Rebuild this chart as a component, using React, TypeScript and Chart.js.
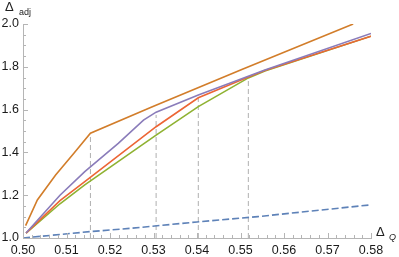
import React, { useEffect, useRef } from 'react';
import { Chart, registerables } from 'chart.js';

Chart.register(...registerables);

// Axis ticks
const xTickValues = [0.5, 0.51, 0.52, 0.53, 0.54, 0.55, 0.56, 0.57, 0.58];
const yTickValues = [1.0, 1.2, 1.4, 1.6, 1.8, 2.0];

// Series
const blueX = [0.5, 0.5155, 0.5246, 0.54, 0.554, 0.58];
const blueY = [1.0, 1.03, 1.045, 1.075, 1.1, 1.155];

const greenX = [0.5007, 0.5085, 0.5142, 0.5306, 0.5403, 0.5518, 0.5556, 0.58];
const greenY = [1.023, 1.16, 1.248, 1.481, 1.614, 1.748, 1.78, 1.943];

const redX = [0.5007, 0.5085, 0.5142, 0.5306, 0.5403, 0.5518, 0.5556, 0.58];
const redY = [1.023, 1.175, 1.263, 1.52, 1.655, 1.752, 1.783, 1.943];

const purpleX = [0.5007, 0.5085, 0.5142, 0.5219, 0.5277, 0.5306, 0.5403, 0.5495, 0.5556, 0.58];
const purpleY = [1.023, 1.2, 1.31, 1.442, 1.551, 1.588, 1.668, 1.738, 1.785, 1.956];

const orangeX = [0.5006, 0.5033, 0.5075, 0.5117, 0.5155, 0.5296, 0.5503, 0.5759];
const orangeY = [1.058, 1.178, 1.294, 1.396, 1.49, 1.612, 1.787, 2.0];

// Vertical dashed markers
const markerX = [0.5155, 0.5306, 0.5403, 0.5518];
const markerTop = [1.49, 1.575, 1.655, 1.748];

const xMinorStep = 0.002;
const yMinorStep = 0.05;

const zip = (xs: number[], ys: number[]) => xs.map((x, i) => ({ x, y: ys[i] }));

const AXIS_COLOR = '#b5b5b5';
const FONT = '"Liberation Sans", Arial, sans-serif';

const axisPlugin = {
  id: 'mmaAxes',
  afterDraw(chart: any) {
    const ctx = chart.ctx;
    const xs = chart.scales.x;
    const ys = chart.scales.y;
    const x0 = xs.getPixelForValue(0.5);
    const y0 = ys.getPixelForValue(1.0);
    ctx.save();
    ctx.strokeStyle = AXIS_COLOR;
    ctx.lineWidth = 1;
    const nx = Math.round((0.58 - 0.5) / xMinorStep);
    for (let i = 0; i <= nx; i++) {
      const v = 0.5 + i * xMinorStep;
      const px = Math.round(xs.getPixelForValue(v)) + 0.5;
      const major = i % 5 === 0;
      ctx.beginPath();
      ctx.moveTo(px, y0);
      ctx.lineTo(px, y0 - (major ? 5 : 3));
      ctx.stroke();
    }
    const ny = Math.round((2.0 - 1.0) / yMinorStep);
    for (let i = 0; i <= ny; i++) {
      const v = 1.0 + i * yMinorStep;
      const py = Math.round(ys.getPixelForValue(v)) + 0.5;
      const major = i % 4 === 0;
      ctx.beginPath();
      ctx.moveTo(x0, py);
      ctx.lineTo(x0 + (major ? 5 : 3), py);
      ctx.stroke();
    }
    ctx.fillStyle = '#222';
    ctx.textBaseline = 'alphabetic';
    ctx.textAlign = 'left';
    ctx.font = `13px ${FONT}`;
    ctx.fillText('Δ', 5, 11);
    ctx.font = `9px ${FONT}`;
    ctx.fillText('adj', 19, 15);
    ctx.font = `13px ${FONT}`;
    ctx.fillText('Δ', 376, 236);
    ctx.font = `italic 9px ${FONT}`;
    ctx.fillText('Q', 389, 240);
    ctx.restore();
  },
};

export default function App() {
  const ref = useRef<HTMLCanvasElement | null>(null);

  useEffect(() => {
    if (!ref.current) return;
    const markerSets = markerX.map((mx, i) => ({
      data: [
        { x: mx, y: 1.0 },
        { x: mx, y: markerTop[i] },
      ],
      borderColor: '#b0b0b0',
      borderWidth: 1,
      borderDash: [5, 3],
      pointRadius: 0,
      fill: false,
      order: 10,
    }));
    const line = (xs: number[], ys: number[], color: string, order: number, extra: any = {}) => ({
      data: zip(xs, ys),
      borderColor: color,
      borderWidth: 1.6,
      pointRadius: 0,
      fill: false,
      tension: 0,
      order,
      ...extra,
    });
    const chart = new Chart(ref.current, {
      type: 'line',
      data: {
        datasets: [
          line(orangeX, orangeY, '#d27d2a', 1),
          line(purpleX, purpleY, '#8a7cba', 2),
          line(redX, redY, '#ec6535', 3),
          line(greenX, greenY, '#8fb232', 4),
          line(blueX, blueY, '#5e82b8', 5, { borderDash: [7, 3], borderWidth: 1.6 }),
          ...markerSets,
        ] as any,
      },
      options: {
        animation: false,
        responsive: false,
        maintainAspectRatio: false,
        events: [],
        layout: { padding: { left: 0, right: 28, top: 24, bottom: 0 } },
        plugins: { legend: { display: false }, tooltip: { enabled: false } },
        scales: {
          x: {
            type: 'linear',
            min: 0.5,
            max: 0.58,
            afterFit: (s: any) => {
              s.height = 19;
            },
            afterBuildTicks: (s: any) => {
              s.ticks = xTickValues.map((v) => ({ value: v }));
            },
            grid: { display: false, drawTicks: false },
            border: { display: true, color: AXIS_COLOR, width: 1 },
            ticks: {
              padding: 5,
              maxRotation: 0,
              autoSkip: false,
              color: '#1a1a1a',
              font: { family: FONT, size: 12.5 },
              callback: (v: any) => Number(v).toFixed(2),
            },
          },
          y: {
            type: 'linear',
            min: 1.0,
            max: 2.0,
            afterFit: (s: any) => {
              s.width = 23;
            },
            afterBuildTicks: (s: any) => {
              s.ticks = yTickValues.map((v) => ({ value: v }));
            },
            grid: { display: false, drawTicks: false },
            border: { display: true, color: AXIS_COLOR, width: 1 },
            ticks: {
              padding: 4,
              autoSkip: false,
              color: '#1a1a1a',
              font: { family: FONT, size: 12.5 },
              callback: (v: any) => Number(v).toFixed(1),
            },
          },
        },
      },
      plugins: [axisPlugin],
    });
    return () => chart.destroy();
  }, []);

  return (
    <div style={{ position: 'absolute', left: 0, top: 0, width: 399, height: 257, background: '#fff' }}>
      <canvas ref={ref} width={399} height={257} style={{ width: 399, height: 257 }} />
    </div>
  );
}
